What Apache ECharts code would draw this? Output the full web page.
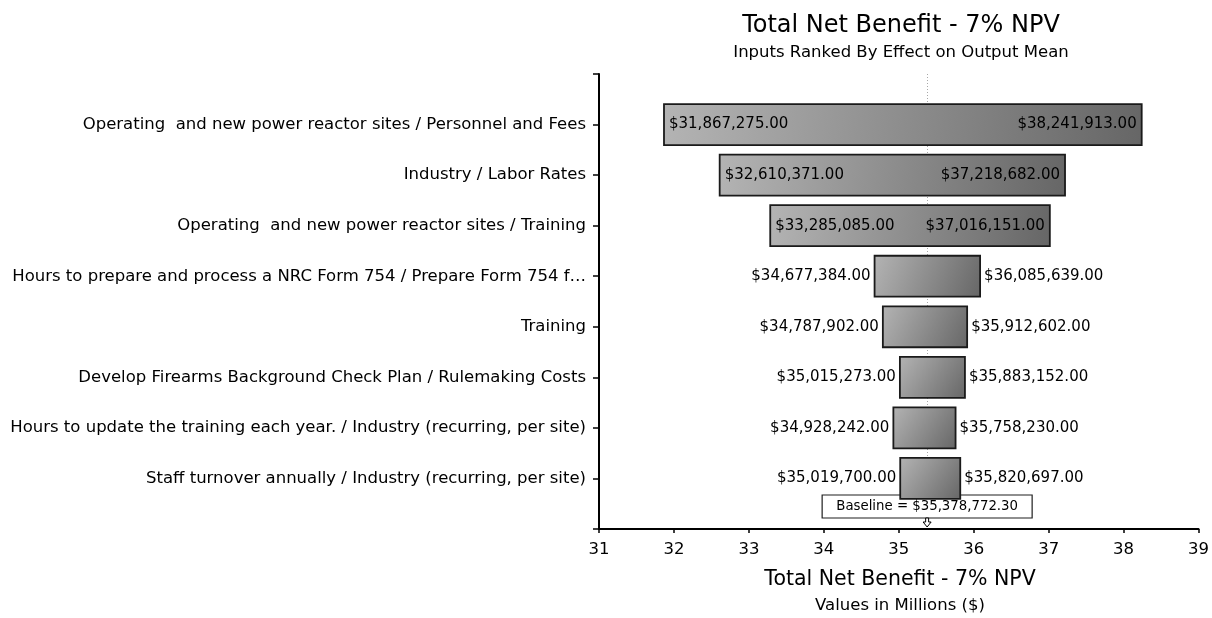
<!DOCTYPE html>
<html>
<head>
<meta charset="utf-8">
<script src="https://cdn.jsdelivr.net/npm/echarts@6/dist/echarts.min.js"></script>
<style>
  html, body { margin: 0; padding: 0; background: #fff; }
  #chart { width: 1212px; height: 618px; }
</style>
</head>
<body>
<div id="chart"></div>
<script>
// inputs, top to bottom as shown
var categories = [
    'Operating  and new power reactor sites / Personnel and Fees',
    'Industry / Labor Rates',
    'Operating  and new power reactor sites / Training',
    'Hours to prepare and process a NRC Form 754 / Prepare Form 754 f\u2026',
    'Training',
    'Develop Firearms Background Check Plan / Rulemaking Costs',
    'Hours to update the training each year. / Industry (recurring, per site)',
    'Staff turnover annually / Industry (recurring, per site)'
];
var lowValues = [31867275.00, 32610371.00, 33285085.00, 34677384.00, 34787902.00, 35015273.00, 34928242.00, 35019700.00];
var highValues = [38241913.00, 37218682.00, 37016151.00, 36085639.00, 35912602.00, 35883152.00, 35758230.00, 35820697.00];
var baseline = 35378772.30;
var xTicks = [31, 32, 33, 34, 35, 36, 37, 38, 39];

var FONT = '"DejaVu Sans", Verdana, sans-serif';

var chart = echarts.init(document.getElementById('chart'));

// y axis: blank slot at the bottom and top, first input highest
var yLabels = [''].concat(categories.slice().reverse()).concat(['']);

var barData = [];
for (var i = 0; i < categories.length; i++) {
    barData.push([lowValues[i] / 1e6, categories.length - i, highValues[i] / 1e6, lowValues[i], highValues[i]]);
}

function money(v) {
    return '$' + v.toLocaleString('en-US', { minimumFractionDigits: 2, maximumFractionDigits: 2 });
}

function renderBar(params, api) {
    var row = api.value(1);
    var p0 = api.coord([api.value(0), row]);
    var p1 = api.coord([api.value(2), row]);
    var h = api.size([0, 1])[1] * 0.81;
    var w = p1[0] - p0[0];
    var inside = w > 250; // wide bars carry their labels inside
    var labelFont = '15px ' + FONT;
    return {
        type: 'group',
        children: [
            {
                type: 'rect',
                shape: { x: p0[0], y: p0[1] - h / 2, width: w, height: h },
                style: {
                    fill: new echarts.graphic.LinearGradient(0, 0, 1, 1, [
                        { offset: 0, color: '#b4b4b4' },
                        { offset: 1, color: '#666666' }
                    ]),
                    stroke: '#1a1a1a',
                    lineWidth: 1.8
                }
            },
            {
                type: 'text',
                style: {
                    text: money(api.value(3)),
                    x: inside ? p0[0] + 5 : p0[0] - 4,
                    y: p0[1],
                    align: inside ? 'left' : 'right',
                    verticalAlign: 'middle',
                    font: labelFont,
                    fill: '#000'
                }
            },
            {
                type: 'text',
                style: {
                    text: money(api.value(4)),
                    x: inside ? p1[0] - 5 : p1[0] + 4,
                    y: p1[1],
                    align: inside ? 'right' : 'left',
                    verticalAlign: 'middle',
                    font: labelFont,
                    fill: '#000'
                }
            }
        ]
    };
}

function renderBaseline(params, api) {
    var p = api.coord([api.value(0), 0]);
    var top = api.coord([api.value(0), yLabels.length - 1]);
    var x = p[0], y = p[1];
    return {
        type: 'group',
        children: [
            {
                type: 'line',
                shape: { x1: Math.round(x) + 0.5, y1: top[1], x2: Math.round(x) + 0.5, y2: y - 34 },
                style: { stroke: '#a8a8a8', lineWidth: 1, lineDash: [1, 2] }
            },
            {
                type: 'rect',
                shape: { x: x - 105, y: y - 34, width: 210, height: 23 },
                style: { fill: '#fff', stroke: '#1e1e1e', lineWidth: 1.2 }
            },
            {
                type: 'text',
                style: {
                    text: 'Baseline = ' + money(api.value(1)),
                    x: x, y: y - 22.5,
                    align: 'center', verticalAlign: 'middle',
                    font: '13.3px ' + FONT, fill: '#000'
                }
            },
            {
                type: 'polygon',
                shape: { points: [[x - 1.5, y - 11], [x + 1.5, y - 11], [x + 1.5, y - 7], [x + 4, y - 7], [x, y - 2], [x - 4, y - 7], [x - 1.5, y - 7]] },
                style: { fill: '#fff', stroke: '#000', lineWidth: 1 }
            }
        ]
    };
}

chart.setOption({
    animation: false,
    backgroundColor: '#fff',
    grid: { left: 599, right: 12, top: 74, bottom: 89 },
    xAxis: {
        type: 'value',
        min: xTicks[0],
        max: xTicks[xTicks.length - 1],
        interval: 1,
        axisLine: { show: true, lineStyle: { color: '#000', width: 2 } },
        axisTick: { show: true, length: 4, lineStyle: { color: '#000', width: 1.5 } },
        axisLabel: { color: '#000', fontSize: 16.5, fontFamily: FONT, margin: 12 },
        splitLine: { show: false }
    },
    yAxis: {
        type: 'category',
        data: yLabels,
        boundaryGap: false,
        axisLine: { show: true, lineStyle: { color: '#000', width: 2 } },
        axisTick: { show: true, length: 6, lineStyle: { color: '#000', width: 1.5 } },
        axisLabel: { color: '#000', fontSize: 16.5, fontFamily: FONT, margin: 13 },
        splitLine: { show: false }
    },
    series: [
        {
            type: 'custom',
            renderItem: renderBaseline,
            data: [[baseline / 1e6, baseline]],
            z: 2
        },
        {
            type: 'custom',
            renderItem: renderBar,
            data: barData,
            z: 3
        }
    ],
    graphic: [
        {
            type: 'text', x: 901, y: 26,
            style: { text: 'Total Net Benefit - 7% NPV', align: 'center', verticalAlign: 'middle', font: '24px ' + FONT, fill: '#000' }
        },
        {
            type: 'text', x: 901, y: 53,
            style: { text: 'Inputs Ranked By Effect on Output Mean', align: 'center', verticalAlign: 'middle', font: '16.5px ' + FONT, fill: '#000' }
        },
        {
            type: 'text', x: 900, y: 580,
            style: { text: 'Total Net Benefit - 7% NPV', align: 'center', verticalAlign: 'middle', font: '20.5px ' + FONT, fill: '#000' }
        },
        {
            type: 'text', x: 900, y: 606,
            style: { text: 'Values in Millions ($)', align: 'center', verticalAlign: 'middle', font: '16.5px ' + FONT, fill: '#000' }
        }
    ]
});
</script>
</body>
</html>
